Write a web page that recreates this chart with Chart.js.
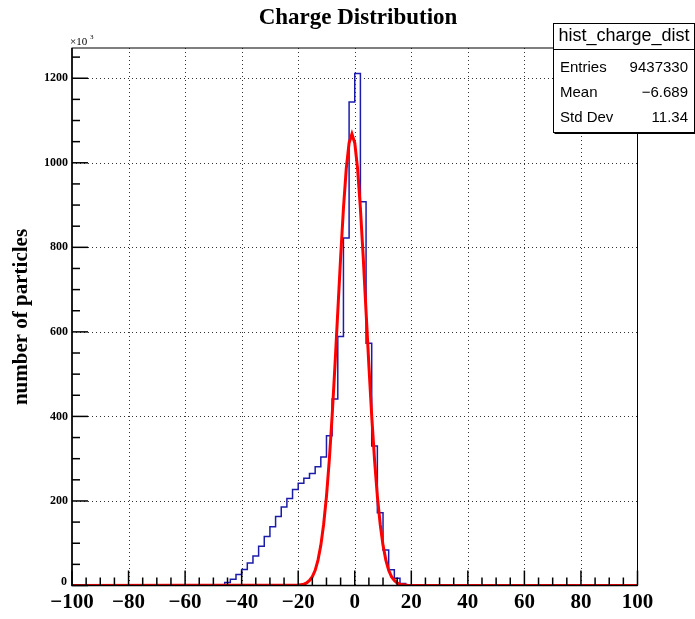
<!DOCTYPE html>
<html>
<head>
<meta charset="utf-8">
<title>Charge Distribution</title>
<script src="https://cdn.jsdelivr.net/npm/chart.js@4.4.1/dist/chart.umd.min.js"></script>
<style>
    body { margin: 0; background: #fff; }
    canvas { display: block; }
</style>
</head>
<body>
<canvas id="myChart" width="695" height="619"></canvas>
<script>
// histogram: low edge of each bin (bin width 2), counts in units of 10^3
const binWidth = 2;
const binLow = [-46, -44, -42, -40, -38, -36, -34, -32, -30, -28, -26, -24, -22, -20, -18, -16, -14,
    -12, -10, -8, -6, -4, -2, 0, 2, 4, 6, 8, 10, 12, 14, 16, 18];
const counts = [7, 15, 26, 38, 53, 70, 93, 116, 139, 163, 186, 206, 227, 242, 254, 265, 281,
    304, 354, 441, 589, 822, 1144, 1211, 908, 573, 330, 172, 84, 37, 17, 5, 1];

// gaussian fit curve
const fitX = [-100, -20, -19, -18, -17, -16, -15, -14, -13, -12, -11, -10, -9, -8, -7, -6, -5, -4, -3, -2, -1,
    0, 1, 2, 3, 4, 5, 6, 7, 8, 9, 10, 11, 12, 13, 14, 15, 16, 17, 18, 19, 20, 100];
const fitY = [0, 1, 2, 3, 6, 12, 21, 36, 60, 95, 145, 211, 297, 401, 520, 648, 776, 892, 986, 1047, 1068,
    1047, 986, 892, 776, 648, 520, 401, 297, 211, 145, 95, 60, 36, 21, 12, 6, 3, 2, 1, 0, 0, 0];

const xTicks = [-100, -80, -60, -40, -20, 0, 20, 40, 60, 80, 100];
const yTicks = [0, 200, 400, 600, 800, 1000, 1200];

const statsRows = [['Entries', '9437330'], ['Mean', '\u22126.689'], ['Std Dev', '11.34']];

const xMin = -100, xMax = 100, yMax = 1271.55;

function histPoints() {
    const pts = [{ x: xMin, y: 0 }];
    binLow.forEach((lo, i) => pts.push({ x: lo, y: counts[i] }));
    pts.push({ x: binLow[binLow.length - 1] + binWidth, y: 0 });
    pts.push({ x: xMax, y: 0 });
    return pts;
}

function fmtTick(v) {
    return v < 0 ? '\u2212' + Math.abs(v) : String(v);
}

const rootStyle = {
    id: 'rootStyle',
    beforeDatasetsDraw(chart) {
        const { ctx, chartArea: a, scales: { x, y } } = chart;
        ctx.save();
        ctx.strokeStyle = '#333';
        ctx.lineWidth = 1;
        ctx.setLineDash([1, 3]);
        xTicks.forEach(v => {
            if (v === xMin || v === xMax) return;
            const px = Math.round(x.getPixelForValue(v)) + 0.5;
            ctx.beginPath();
            ctx.moveTo(px, a.top);
            ctx.lineTo(px, a.bottom);
            ctx.stroke();
        });
        yTicks.forEach(v => {
            if (v === 0) return;
            const py = Math.round(y.getPixelForValue(v)) + 0.5;
            ctx.beginPath();
            ctx.moveTo(a.left, py);
            ctx.lineTo(a.right, py);
            ctx.stroke();
        });
        ctx.restore();
    },
    afterDraw(chart) {
        const { ctx, chartArea: a, scales: { x, y } } = chart;
        ctx.save();
        ctx.strokeStyle = '#000';
        ctx.fillStyle = '#000';

        // frame
        ctx.lineWidth = 1;
        ctx.strokeRect(a.left, a.top, a.right - a.left, a.bottom - a.top);
        ctx.lineWidth = 1.5;
        ctx.beginPath();
        ctx.moveTo(a.left, a.top);
        ctx.lineTo(a.left, a.bottom);
        ctx.lineTo(a.right, a.bottom);
        ctx.stroke();

        // x ticks, inside the frame
        ctx.lineWidth = 1.5;
        for (let v = xMin; v <= xMax; v += 5) {
            const px = x.getPixelForValue(v);
            const len = v % 20 === 0 ? 15 : 8;
            ctx.beginPath();
            ctx.moveTo(px, a.bottom);
            ctx.lineTo(px, a.bottom - len);
            ctx.stroke();
        }
        // y ticks
        for (let v = 0; v <= yMax; v += 50) {
            const py = y.getPixelForValue(v);
            const len = v % 200 === 0 ? 16 : 8;
            ctx.beginPath();
            ctx.moveTo(a.left, py);
            ctx.lineTo(a.left + len, py);
            ctx.stroke();
        }

        // tick labels
        ctx.font = 'bold 21px "Liberation Serif"';
        ctx.textAlign = 'center';
        ctx.textBaseline = 'middle';
        xTicks.forEach(v => ctx.fillText(fmtTick(v), x.getPixelForValue(v), 603));

        ctx.font = 'bold 12px "Liberation Serif"';
        ctx.textAlign = 'right';
        yTicks.forEach(v => ctx.fillText(String(v), v === 0 ? 67 : 68, y.getPixelForValue(v) - (v === 0 ? 4 : 0)));

        ctx.font = '11px "Liberation Serif"';
        ctx.textAlign = 'left';
        ctx.fillText('\u00d710', 70, 42);
        ctx.font = '7px "Liberation Serif"';
        ctx.fillText('3', 90, 37);

        // axis title
        ctx.save();
        ctx.translate(22, 317);
        ctx.rotate(-Math.PI / 2);
        ctx.font = 'bold 21px "Liberation Serif"';
        ctx.textAlign = 'center';
        ctx.fillText('number of particles', 0, 0);
        ctx.restore();

        // title
        ctx.font = 'bold 23px "Liberation Serif"';
        ctx.textAlign = 'center';
        ctx.fillText('Charge Distribution', 358, 18);

        // stats box
        const bx = 553.5, by = 23.5, bw = 141, bh = 109;
        ctx.fillStyle = '#fff';
        ctx.fillRect(bx, by, bw, bh);
        ctx.lineWidth = 1;
        ctx.strokeRect(bx, by, bw, bh);
        ctx.lineWidth = 2;
        ctx.beginPath();
        ctx.moveTo(bx + 1, by + bh + 0.5);
        ctx.lineTo(bx + bw + 0.5, by + bh + 0.5);
        ctx.lineTo(bx + bw + 0.5, by + 1);
        ctx.stroke();
        ctx.lineWidth = 1;
        ctx.beginPath();
        ctx.moveTo(bx, 49.5);
        ctx.lineTo(bx + bw, 49.5);
        ctx.stroke();

        ctx.fillStyle = '#000';
        ctx.font = '18px "Liberation Sans"';
        ctx.textAlign = 'center';
        ctx.fillText('hist_charge_dist', bx + bw / 2, 36);
        ctx.font = '15px "Liberation Sans"';
        statsRows.forEach((r, i) => {
            const ry = 68 + i * 25;
            ctx.textAlign = 'left';
            ctx.fillText(r[0], 560, ry);
            ctx.textAlign = 'right';
            ctx.fillText(r[1], 688, ry);
        });
        ctx.restore();
    }
};

const ctx = document.getElementById('myChart').getContext('2d');
const chart = new Chart(ctx, {
    type: 'line',
    data: {
        datasets: [{
            label: 'fit',
            data: fitX.map((v, i) => ({ x: v, y: fitY[i] })),
            borderColor: '#ff0000',
            borderWidth: 3,
            pointRadius: 0,
            tension: 0
        }, {
            label: 'hist_charge_dist',
            data: histPoints(),
            borderColor: '#1c1caa',
            borderWidth: 1.5,
            pointRadius: 0,
            stepped: true
        }]
    },
    options: {
        responsive: false,
        animation: false,
        devicePixelRatio: 1,
        layout: {
            padding: { left: 72, right: 57.5, top: 48, bottom: 33.5 }
        },
        plugins: {
            legend: { display: false },
            tooltip: { enabled: false }
        },
        scales: {
            x: { type: 'linear', min: xMin, max: xMax, display: false },
            y: { type: 'linear', min: 0, max: yMax, display: false }
        }
    },
    plugins: [rootStyle]
});
</script>
</body>
</html>
